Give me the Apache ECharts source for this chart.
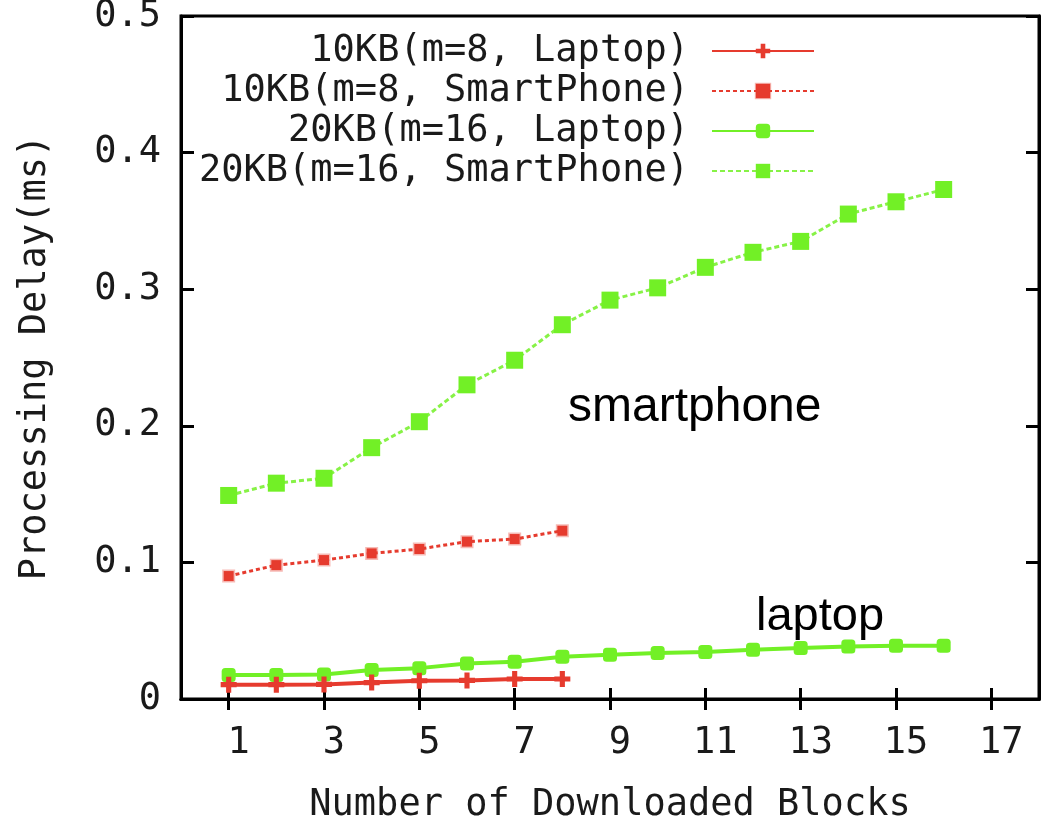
<!DOCTYPE html>
<html>
<head>
<meta charset="utf-8">
<script src="https://cdn.jsdelivr.net/npm/echarts@6/dist/echarts.min.js"></script>
<style>
  html, body { margin: 0; padding: 0; background: #fff; }
  #chart { width: 1045px; height: 822px; }
</style>
</head>
<body>
<div id="chart"></div>
<script>
// x categories (0..18), only odd ones get a tick and a label
const xCats = ['0', '1', '2', '3', '4', '5', '6', '7', '8', '9', '10', '11', '12', '13', '14', '15', '16', '17', '18']
const blocks8 = ['1', '2', '3', '4', '5', '6', '7', '8']
const blocks16 = ['1', '2', '3', '4', '5', '6', '7', '8', '9', '10', '11', '12', '13', '14', '15', '16']

// processing delay (ms)
const laptop10 = [0.0105, 0.0105, 0.0107, 0.012, 0.0134, 0.0136, 0.0146, 0.0146]
const phone10 = [0.090, 0.098, 0.1017, 0.1066, 0.1098, 0.1152, 0.1171, 0.1232]
const laptop20 = [0.0176, 0.0176, 0.018, 0.0212, 0.0226, 0.026, 0.0273, 0.031,
  0.0324, 0.0337, 0.0344, 0.0361, 0.0373, 0.0385, 0.039, 0.039]
const phone20 = [0.149, 0.158, 0.1616, 0.184, 0.203, 0.230, 0.248, 0.274,
  0.292, 0.301, 0.316, 0.327, 0.335, 0.355, 0.364, 0.373]

const seriesNames = ['10KB(m=8, Laptop)', '10KB(m=8, SmartPhone)', '20KB(m=16, Laptop)', '20KB(m=16, SmartPhone)']

const RED = '#e63b2e'
const GREEN = '#72f026'
const MONO = 'DejaVu Sans Mono'
const TXT = '#1a1a1a'
const plusPath = 'path://M3.4,0H6.6V3.4H10V6.6H6.6V10H3.4V6.6H0V3.4H3.4Z'

function pairs (xs, ys) {
  return xs.map((x, i) => [x, ys[i]])
}

const oddOnly = function (idx) { return idx % 2 === 1 }

let chart = echarts.init(document.getElementById('chart'))
chart.setOption({
  animation: false,
  backgroundColor: '#fff',
  textStyle: { fontFamily: MONO },
  grid: {
    left: 181,
    right: 6,
    top: 16,
    bottom: 123,
    show: true,
    borderColor: '#000',
    borderWidth: 3,
    outerBoundsMode: 'none'
  },
  legend: {
    data: seriesNames,
    orient: 'vertical',
    align: 'right',
    right: 230,
    top: 31,
    padding: 0,
    itemGap: 0,
    itemWidth: 102,
    itemHeight: 18,
    textStyle: {
      fontFamily: MONO,
      fontSize: 37,
      color: TXT,
      lineHeight: 40,
      padding: [0, 18, 0, 0]
    }
  },
  xAxis: [{
    type: 'category',
    data: xCats,
    boundaryGap: false,
    name: 'Number of Downloaded Blocks',
    nameLocation: 'middle',
    nameGap: 88,
    nameTextStyle: { fontFamily: MONO, fontSize: 37, color: TXT },
    axisLine: { lineStyle: { color: '#000', width: 3 } },
    axisTick: { inside: true, length: 11, interval: oddOnly, lineStyle: { color: '#000', width: 3 } },
    axisLabel: { interval: oddOnly, fontFamily: MONO, fontSize: 37, color: TXT, margin: 26, padding: [0, 0, 0, 20] },
    splitLine: { show: false }
  }, {
    type: 'category',
    data: xCats,
    position: 'top',
    boundaryGap: false,
    axisLine: { lineStyle: { color: '#000', width: 3 } },
    axisTick: { inside: true, length: 11, interval: oddOnly, lineStyle: { color: '#000', width: 3 } },
    axisLabel: { show: false },
    splitLine: { show: false }
  }],
  yAxis: [{
    type: 'value',
    min: 0,
    max: 0.5,
    interval: 0.1,
    name: 'Processing Delay(ms)',
    nameLocation: 'middle',
    nameGap: 127,
    nameTextStyle: { fontFamily: MONO, fontSize: 37, color: TXT },
    axisLine: { show: true, lineStyle: { color: '#000', width: 3 } },
    axisTick: { show: true, inside: true, length: 13, lineStyle: { color: '#000', width: 3 } },
    axisLabel: { fontFamily: MONO, fontSize: 37, color: TXT, margin: 20 },
    splitLine: { show: false }
  }, {
    type: 'value',
    min: 0,
    max: 0.5,
    interval: 0.1,
    position: 'right',
    axisLine: { show: true, lineStyle: { color: '#000', width: 3 } },
    axisTick: { show: true, inside: true, length: 13, lineStyle: { color: '#000', width: 3 } },
    axisLabel: { show: false },
    splitLine: { show: false }
  }],
  series: [{
    name: seriesNames[0],
    type: 'line',
    data: pairs(blocks8, laptop10),
    color: RED,
    symbol: plusPath,
    symbolSize: 16,
    lineStyle: { width: 4, color: RED },
    itemStyle: { color: RED },
    z: 4
  }, {
    name: seriesNames[1],
    type: 'line',
    data: pairs(blocks8, phone10),
    color: RED,
    symbol: 'rect',
    symbolSize: 10,
    lineStyle: { width: 3, color: RED, type: [4, 3] },
    itemStyle: { color: RED, borderColor: 'rgba(230,59,46,0.35)', borderWidth: 3 },
    z: 3
  }, {
    name: seriesNames[2],
    type: 'line',
    data: pairs(blocks16, laptop20),
    color: GREEN,
    symbol: 'roundRect',
    symbolSize: 14,
    lineStyle: { width: 4, color: GREEN },
    itemStyle: { color: GREEN },
    z: 3
  }, {
    name: seriesNames[3],
    type: 'line',
    data: pairs(blocks16, phone20),
    color: GREEN,
    symbol: 'rect',
    symbolSize: 17,
    lineStyle: { width: 3, color: GREEN, type: [5, 3], opacity: 0.85 },
    itemStyle: { color: GREEN },
    z: 3
  }],
  graphic: [{
    type: 'text',
    x: 568,
    y: 408,
    style: { text: 'smartphone', fontFamily: 'Liberation Sans', fontSize: 48, fill: '#000', verticalAlign: 'middle' }
  }, {
    type: 'text',
    x: 756,
    y: 617,
    style: { text: 'laptop', fontFamily: 'Liberation Sans', fontSize: 47, fill: '#000', verticalAlign: 'middle' }
  }]
})
</script>
</body>
</html>
